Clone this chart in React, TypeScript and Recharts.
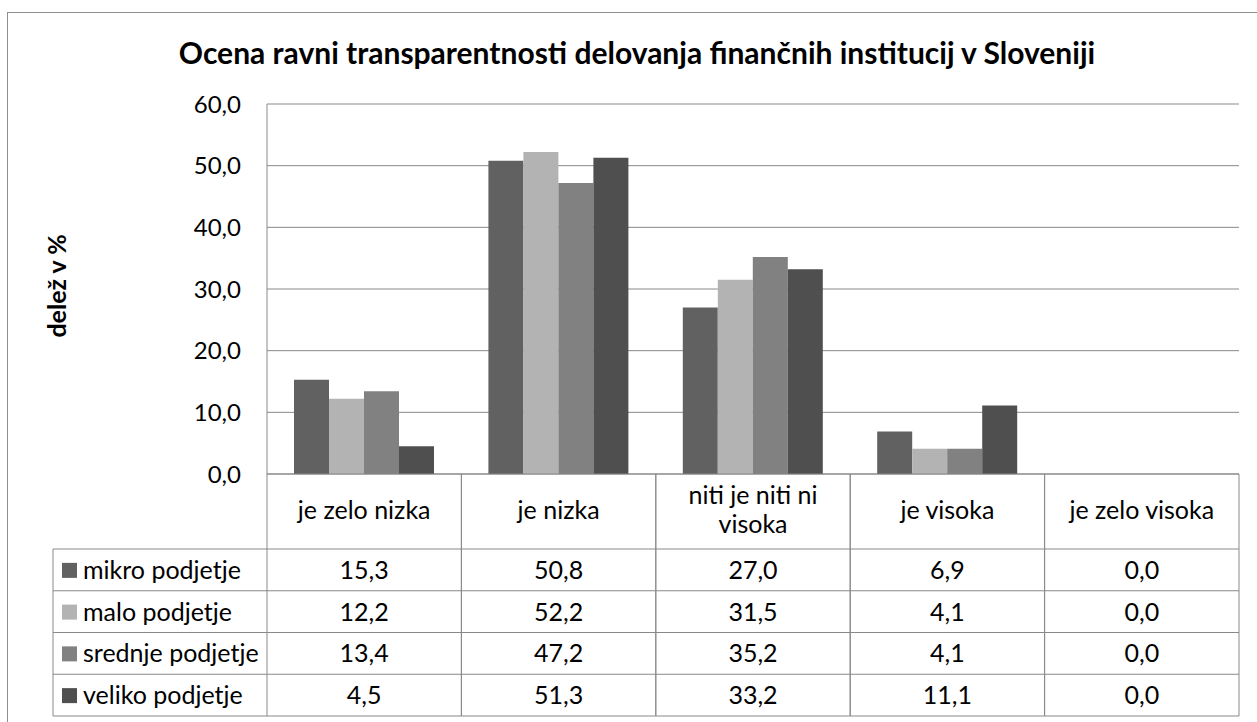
import React from 'react';
import { BarChart, Bar, XAxis, YAxis, CartesianGrid } from 'recharts';

const categories = ['je zelo nizka', 'je nizka', 'niti je niti ni visoka', 'je visoka', 'je zelo visoka'];
const seriesNames = ['mikro podjetje', 'malo podjetje', 'srednje podjetje', 'veliko podjetje'];
const mikro = [15.3, 50.8, 27.0, 6.9, 0.0];
const malo = [12.2, 52.2, 31.5, 4.1, 0.0];
const srednje = [13.4, 47.2, 35.2, 4.1, 0.0];
const veliko = [4.5, 51.3, 33.2, 11.1, 0.0];
const yTicks = [0, 10, 20, 30, 40, 50, 60];

const seriesKeys = ['mikro', 'malo', 'srednje', 'veliko'];
const seriesValues = [mikro, malo, srednje, veliko];
const colors = ['#616161', '#b3b3b3', '#818181', '#4f4f4f'];

const data = categories.map((name, i) => ({
  name,
  mikro: mikro[i],
  malo: malo[i],
  srednje: srednje[i],
  veliko: veliko[i],
}));

// layout
const W = 1257;
const H = 722;
const PLOT_LEFT = 267;
const PLOT_RIGHT = 1239;
const PLOT_TOP = 104;
const PLOT_BOTTOM = 474;
const TABLE_BOTTOM = 716;
const HEADER_H = 75;
const ROW_H = (TABLE_BOTTOM - PLOT_BOTTOM - HEADER_H) / 4;
const LEGEND_LEFT = 53;
const Y_AXIS_W = 80;
const LINE = '#898989';
const FONT = 'Lato, "Open Sans", sans-serif';
const FS = 24;
const TFS = 25;
const LH = 29;

const fmt = (v: number) => v.toFixed(1).replace('.', ',');

let ctx: CanvasRenderingContext2D | null = null;
function wrap(text: string, maxW: number): string[] {
  if (!ctx) ctx = document.createElement('canvas').getContext('2d');
  if (!ctx) return [text];
  ctx.font = `${TFS}px Lato`;
  const words = text.split(' ');
  const lines: string[] = [];
  let cur = '';
  words.forEach((w) => {
    const test = cur ? cur + ' ' + w : w;
    if (cur && ctx!.measureText(test).width > maxW) {
      lines.push(cur);
      cur = w;
    } else cur = test;
  });
  if (cur) lines.push(cur);
  return lines;
}

function TableTick(props: any) {
  const { x, index, payload } = props;
  const bw = (PLOT_RIGHT - PLOT_LEFT) / categories.length;
  const left = x - bw / 2;
  const right = x + bw / 2;
  const y0 = PLOT_BOTTOM;
  const rowsTop = y0 + HEADER_H;
  const lines = wrap(String(payload.value), bw - 20);
  const firstY = y0 + HEADER_H / 2 - 2 - ((lines.length - 1) * LH) / 2;
  return (
    <g>
      <line x1={left} y1={y0} x2={left} y2={TABLE_BOTTOM} stroke={LINE} />
      <line x1={right} y1={y0} x2={right} y2={TABLE_BOTTOM} stroke={LINE} />
      <text textAnchor="middle" fontSize={TFS} fill="#000" fontFamily={FONT}>
        {lines.map((l, i) => (
          <tspan key={i} x={x} y={firstY + i * LH} dy="0.36em">
            {l}
          </tspan>
        ))}
      </text>
      {seriesValues.map((vals, r) => {
        const top = rowsTop + r * ROW_H;
        return (
          <g key={r}>
            <line x1={left} y1={top} x2={right} y2={top} stroke={LINE} />
            <text x={x} y={top + ROW_H / 2} dy="0.36em" textAnchor="middle" fontSize={TFS} fill="#000" fontFamily={FONT}>
              {fmt(vals[index])}
            </text>
          </g>
        );
      })}
      <line x1={left} y1={TABLE_BOTTOM} x2={right} y2={TABLE_BOTTOM} stroke={LINE} />
      {index === 0 && (
        <g>
          <line x1={LEGEND_LEFT} y1={rowsTop} x2={LEGEND_LEFT} y2={TABLE_BOTTOM} stroke={LINE} />
          {seriesNames.map((s, r) => {
            const top = rowsTop + r * ROW_H;
            return (
              <g key={s}>
                <line x1={LEGEND_LEFT} y1={top} x2={left} y2={top} stroke={LINE} />
                <rect x={LEGEND_LEFT + 9} y={top + ROW_H / 2 - 7} width={15} height={15} fill={colors[r]} />
                <text x={LEGEND_LEFT + 30} y={top + ROW_H / 2} dy="0.36em" fontSize={TFS} fill="#000" fontFamily={FONT}>
                  {s}
                </text>
              </g>
            );
          })}
          <line x1={LEGEND_LEFT} y1={TABLE_BOTTOM} x2={left} y2={TABLE_BOTTOM} stroke={LINE} />
        </g>
      )}
    </g>
  );
}

export default function App() {
  return (
    <div style={{ position: 'absolute', left: 0, top: 0, width: W, height: H, overflow: 'hidden', background: '#fff', fontFamily: FONT }}>
      <div style={{ position: 'absolute', left: 7, top: 12, width: 1300, height: 709, border: '1px solid #8f8f8f' }} />
      <div style={{ position: 'absolute', left: 0, top: 0 }}>
        <BarChart
          width={W}
          height={H}
          data={data}
          margin={{ top: PLOT_TOP, right: W - PLOT_RIGHT, bottom: H - TABLE_BOTTOM, left: PLOT_LEFT - Y_AXIS_W }}
          barCategoryGap={27}
          barGap={0}
        >
          <CartesianGrid vertical={false} stroke={LINE} />
          <XAxis
            dataKey="name"
            height={TABLE_BOTTOM - PLOT_BOTTOM}
            interval={0}
            tickLine={false}
            tickSize={0}
            axisLine={{ stroke: LINE }}
            tick={<TableTick />}
          />
          <YAxis
            width={Y_AXIS_W}
            domain={[0, 60]}
            ticks={yTicks}
            tickFormatter={fmt}
            tickLine={false}
            tickMargin={20}
            axisLine={{ stroke: LINE }}
            tick={{ fill: '#000', fontSize: FS, fontFamily: FONT }}
          />
          {seriesKeys.map((k, i) => (
            <Bar key={k} dataKey={k} name={seriesNames[i]} fill={colors[i]} isAnimationActive={false} />
          ))}
        </BarChart>
      </div>
      <svg width={W} height={H} style={{ position: 'absolute', left: 0, top: 0, pointerEvents: 'none' }}>
        <text x={637} y={64} textAnchor="middle" fontWeight="bold" fontSize={30} fill="#000" fontFamily={FONT}>
          Ocena ravni transparentnosti delovanja finančnih institucij v Sloveniji
        </text>
        <text transform="translate(66,286) rotate(-90)" textAnchor="middle" fontWeight="bold" fontSize={25} fill="#000" fontFamily={FONT}>
          delež v %
        </text>
      </svg>
    </div>
  );
}
